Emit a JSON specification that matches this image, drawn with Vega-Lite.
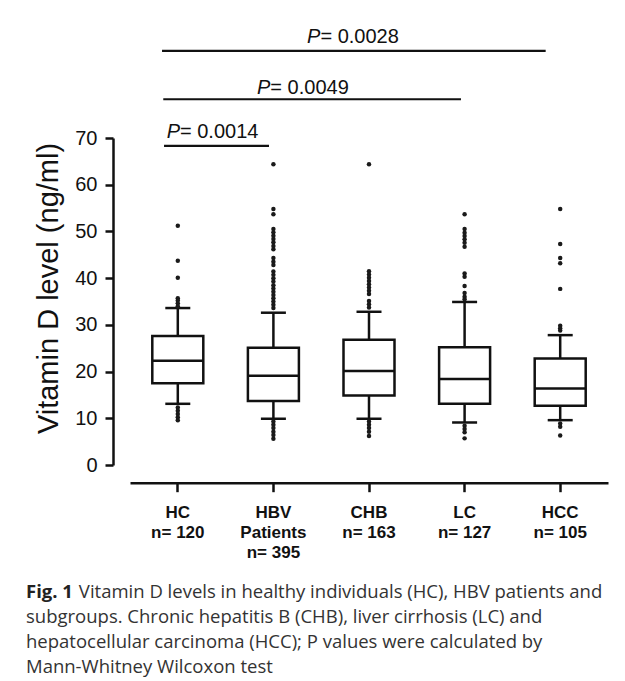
{
  "$schema": "https://vega.github.io/schema/vega-lite/v6.json",
  "width": 478,
  "height": 327,
  "autosize": {"type": "none"},
  "padding": {"left": 130, "top": 138, "right": 17, "bottom": 216},
  "background": "white",
  "datasets": {
    "boxes": [
      {"group": "HC|n= 120", "lower": 13.1, "q1": 17.5, "median": 22.3, "q3": 27.6, "upper": 33.6},
      {"group": "HBV|Patients|n= 395", "lower": 9.9, "q1": 13.7, "median": 19.1, "q3": 25.1, "upper": 32.6},
      {"group": "CHB|n= 163", "lower": 9.9, "q1": 14.9, "median": 20.1, "q3": 26.8, "upper": 32.8},
      {"group": "LC|n= 127", "lower": 9.1, "q1": 13.1, "median": 18.4, "q3": 25.2, "upper": 34.9},
      {"group": "HCC|n= 105", "lower": 9.6, "q1": 12.7, "median": 16.4, "q3": 22.8, "upper": 27.8}
    ],
    "outliers": [
      {"group": "HC|n= 120", "value": 51.2}, {"group": "HC|n= 120", "value": 43.7}, {"group": "HC|n= 120", "value": 40.1},
      {"group": "HC|n= 120", "value": 35.7}, {"group": "HC|n= 120", "value": 35.2}, {"group": "HC|n= 120", "value": 34.6},
      {"group": "HC|n= 120", "value": 34.0}, {"group": "HC|n= 120", "value": 12.3}, {"group": "HC|n= 120", "value": 11.6},
      {"group": "HC|n= 120", "value": 10.9}, {"group": "HC|n= 120", "value": 10.2}, {"group": "HC|n= 120", "value": 9.6},
      {"group": "HBV|Patients|n= 395", "value": 64.4}, {"group": "HBV|Patients|n= 395", "value": 54.8},
      {"group": "HBV|Patients|n= 395", "value": 53.7}, {"group": "HBV|Patients|n= 395", "value": 50.5},
      {"group": "HBV|Patients|n= 395", "value": 49.8}, {"group": "HBV|Patients|n= 395", "value": 49.1},
      {"group": "HBV|Patients|n= 395", "value": 48.4}, {"group": "HBV|Patients|n= 395", "value": 47.7},
      {"group": "HBV|Patients|n= 395", "value": 46.9}, {"group": "HBV|Patients|n= 395", "value": 46.2},
      {"group": "HBV|Patients|n= 395", "value": 44.3}, {"group": "HBV|Patients|n= 395", "value": 43.5},
      {"group": "HBV|Patients|n= 395", "value": 42.8}, {"group": "HBV|Patients|n= 395", "value": 41.4},
      {"group": "HBV|Patients|n= 395", "value": 40.7}, {"group": "HBV|Patients|n= 395", "value": 40.0},
      {"group": "HBV|Patients|n= 395", "value": 39.3}, {"group": "HBV|Patients|n= 395", "value": 38.5},
      {"group": "HBV|Patients|n= 395", "value": 37.8}, {"group": "HBV|Patients|n= 395", "value": 37.1},
      {"group": "HBV|Patients|n= 395", "value": 36.4}, {"group": "HBV|Patients|n= 395", "value": 35.7},
      {"group": "HBV|Patients|n= 395", "value": 35.0}, {"group": "HBV|Patients|n= 395", "value": 34.3},
      {"group": "HBV|Patients|n= 395", "value": 33.6}, {"group": "HBV|Patients|n= 395", "value": 9.3},
      {"group": "HBV|Patients|n= 395", "value": 8.6}, {"group": "HBV|Patients|n= 395", "value": 7.9},
      {"group": "HBV|Patients|n= 395", "value": 7.1}, {"group": "HBV|Patients|n= 395", "value": 6.4},
      {"group": "HBV|Patients|n= 395", "value": 5.6},
      {"group": "CHB|n= 163", "value": 64.4}, {"group": "CHB|n= 163", "value": 41.5}, {"group": "CHB|n= 163", "value": 40.8},
      {"group": "CHB|n= 163", "value": 40.1}, {"group": "CHB|n= 163", "value": 39.4}, {"group": "CHB|n= 163", "value": 38.7},
      {"group": "CHB|n= 163", "value": 38.0}, {"group": "CHB|n= 163", "value": 37.3}, {"group": "CHB|n= 163", "value": 36.6},
      {"group": "CHB|n= 163", "value": 35.1}, {"group": "CHB|n= 163", "value": 34.4}, {"group": "CHB|n= 163", "value": 33.7},
      {"group": "CHB|n= 163", "value": 9.3}, {"group": "CHB|n= 163", "value": 8.6}, {"group": "CHB|n= 163", "value": 7.9},
      {"group": "CHB|n= 163", "value": 7.1}, {"group": "CHB|n= 163", "value": 6.2},
      {"group": "LC|n= 127", "value": 53.7}, {"group": "LC|n= 127", "value": 50.5}, {"group": "LC|n= 127", "value": 49.7},
      {"group": "LC|n= 127", "value": 49.0}, {"group": "LC|n= 127", "value": 48.3}, {"group": "LC|n= 127", "value": 47.6},
      {"group": "LC|n= 127", "value": 46.7}, {"group": "LC|n= 127", "value": 41.0}, {"group": "LC|n= 127", "value": 40.3},
      {"group": "LC|n= 127", "value": 38.3}, {"group": "LC|n= 127", "value": 36.8}, {"group": "LC|n= 127", "value": 36.0},
      {"group": "LC|n= 127", "value": 35.5}, {"group": "LC|n= 127", "value": 8.4}, {"group": "LC|n= 127", "value": 7.7},
      {"group": "LC|n= 127", "value": 7.0}, {"group": "LC|n= 127", "value": 5.7},
      {"group": "HCC|n= 105", "value": 54.8}, {"group": "HCC|n= 105", "value": 47.3}, {"group": "HCC|n= 105", "value": 44.3},
      {"group": "HCC|n= 105", "value": 43.2}, {"group": "HCC|n= 105", "value": 37.7}, {"group": "HCC|n= 105", "value": 29.8},
      {"group": "HCC|n= 105", "value": 29.3}, {"group": "HCC|n= 105", "value": 28.8}, {"group": "HCC|n= 105", "value": 8.9},
      {"group": "HCC|n= 105", "value": 8.2}, {"group": "HCC|n= 105", "value": 6.3}
    ],
    "pvalues": [
      {"p": "= 0.0014", "start": -0.144, "end": 0.954, "level": 68.3, "anchor": 0.023, "textLevel": 70.0},
      {"p": "= 0.0049", "start": -0.152, "end": 2.962, "level": 78.3, "anchor": 0.968, "textLevel": 79.4},
      {"p": "= 0.0028", "start": -0.165, "end": 3.848, "level": 88.65, "anchor": 1.492, "textLevel": 90.4}
    ]
  },
  "title": {
    "text": "Fig. 1",
    "subtitle": [
      "\u200b\u00a0\u00a0\u00a0\u00a0\u00a0\u00a0\u00a0\u00a0\u00a0\u00a0\u00a0Vitamin D levels in healthy individuals (HC), HBV patients and",
      "subgroups. Chronic hepatitis B (CHB), liver cirrhosis (LC) and",
      "hepatocellular carcinoma (HCC); P values were calculated by",
      "Mann-Whitney Wilcoxon test"
    ],
    "orient": "bottom",
    "anchor": "start",
    "frame": "group",
    "dx": -104,
    "offset": 22,
    "font": "Open Sans",
    "fontSize": 18.5,
    "fontWeight": "bold",
    "lineHeight": 18.5,
    "color": "#222222",
    "subtitleFont": "Open Sans",
    "subtitleFontSize": 18.5,
    "subtitleFontWeight": "normal",
    "subtitleColor": "#333333",
    "subtitleLineHeight": 25,
    "subtitlePadding": -18.5
  },
  "layer": [
    {
      "layer": [
        {
          "data": {"name": "boxes"},
          "mark": {"type": "rule", "color": "#111111", "strokeWidth": 2.5},
          "encoding": {
            "x": {
              "field": "group", "type": "nominal", "sort": null,
              "scale": {"paddingInner": 0, "paddingOuter": 0},
              "axis": {
                "title": null,
                "labelExpr": "split(datum.label, '|')",
                "labelAngle": 0,
                "labelFont": "Liberation Sans",
                "labelFontSize": 17,
                "labelFontWeight": "bold",
                "labelLineHeight": 20,
                "labelBaseline": "top",
                "labelPadding": 13,
                "labelColor": "#111111",
                "tickSize": 9,
                "tickWidth": 2.5,
                "tickColor": "#111111",
                "domainWidth": 2.5,
                "domainColor": "#111111",
                "offset": 17.7,
                "grid": false
              }
            },
            "y": {
              "field": "q3", "type": "quantitative",
              "scale": {"domain": [0, 70], "nice": false, "zero": false},
              "axis": {
                "title": "Vitamin D level (ng/ml)",
                "values": [0, 10, 20, 30, 40, 50, 60, 70],
                "labelFont": "Liberation Sans",
                "labelFontSize": 20,
                "labelColor": "#111111",
                "labelPadding": 8,
                "tickSize": 8,
                "tickWidth": 2.5,
                "tickColor": "#111111",
                "domainWidth": 2.5,
                "domainColor": "#111111",
                "offset": 17,
                "grid": false,
                "titleFont": "Liberation Sans",
                "titleFontSize": 29,
                "titleFontWeight": "normal",
                "titleColor": "#111111",
                "titleAngle": -90,
                "titleAlign": "center",
                "titleBaseline": "middle",
                "titleX": -64.7,
                "titleY": 150
              }
            },
            "y2": {"field": "upper"}
          }
        },
        {
          "data": {"name": "boxes"},
          "mark": {"type": "rule", "color": "#111111", "strokeWidth": 2.5},
          "encoding": {
            "x": {"field": "group", "type": "nominal", "sort": null},
            "y": {"field": "lower", "type": "quantitative"},
            "y2": {"field": "q1"}
          }
        },
        {
          "data": {"name": "boxes"},
          "mark": {"type": "tick", "color": "#111111", "opacity": 1, "size": 25, "thickness": 2.5, "orient": "horizontal"},
          "encoding": {
            "x": {"field": "group", "type": "nominal", "sort": null},
            "y": {"field": "upper", "type": "quantitative"}
          }
        },
        {
          "data": {"name": "boxes"},
          "mark": {"type": "tick", "color": "#111111", "opacity": 1, "size": 25, "thickness": 2.5, "orient": "horizontal"},
          "encoding": {
            "x": {"field": "group", "type": "nominal", "sort": null},
            "y": {"field": "lower", "type": "quantitative"}
          }
        },
        {
          "data": {"name": "boxes"},
          "mark": {"type": "bar", "fill": "white", "stroke": "#111111", "strokeWidth": 2.5, "opacity": 1, "size": 51},
          "encoding": {
            "x": {"field": "group", "type": "nominal", "sort": null},
            "y": {"field": "q1", "type": "quantitative"},
            "y2": {"field": "q3"}
          }
        },
        {
          "data": {"name": "boxes"},
          "mark": {"type": "tick", "color": "#111111", "opacity": 1, "size": 51, "thickness": 2.5, "orient": "horizontal"},
          "encoding": {
            "x": {"field": "group", "type": "nominal", "sort": null},
            "y": {"field": "median", "type": "quantitative"}
          }
        },
        {
          "data": {"name": "outliers"},
          "mark": {"type": "point", "shape": "circle", "filled": true, "color": "#1a1a1a", "opacity": 1, "size": 20},
          "encoding": {
            "x": {"field": "group", "type": "nominal", "sort": null},
            "y": {"field": "value", "type": "quantitative"}
          }
        }
      ]
    },
    {
      "data": {"name": "pvalues"},
      "layer": [
        {
          "mark": {"type": "rule", "color": "#111111", "strokeWidth": 2.2},
          "encoding": {
            "x": {"field": "start", "type": "quantitative", "scale": {"domain": [-0.5, 4.5], "nice": false, "zero": false}, "axis": null},
            "x2": {"field": "end"},
            "y": {"field": "level", "type": "quantitative"}
          }
        },
        {
          "mark": {"type": "text", "text": "P", "font": "Liberation Sans", "fontSize": 20, "fontStyle": "italic", "align": "right", "baseline": "alphabetic", "color": "#111111"},
          "encoding": {
            "x": {"field": "anchor", "type": "quantitative"},
            "y": {"field": "textLevel", "type": "quantitative"}
          }
        },
        {
          "mark": {"type": "text", "font": "Liberation Sans", "fontSize": 20, "align": "left", "baseline": "alphabetic", "color": "#111111"},
          "encoding": {
            "x": {"field": "anchor", "type": "quantitative"},
            "y": {"field": "textLevel", "type": "quantitative"},
            "text": {"field": "p"}
          }
        }
      ]
    }
  ],
  "resolve": {"scale": {"x": "independent"}},
  "config": {
    "view": {"stroke": null},
    "axis": {"grid": false}
  }
}
